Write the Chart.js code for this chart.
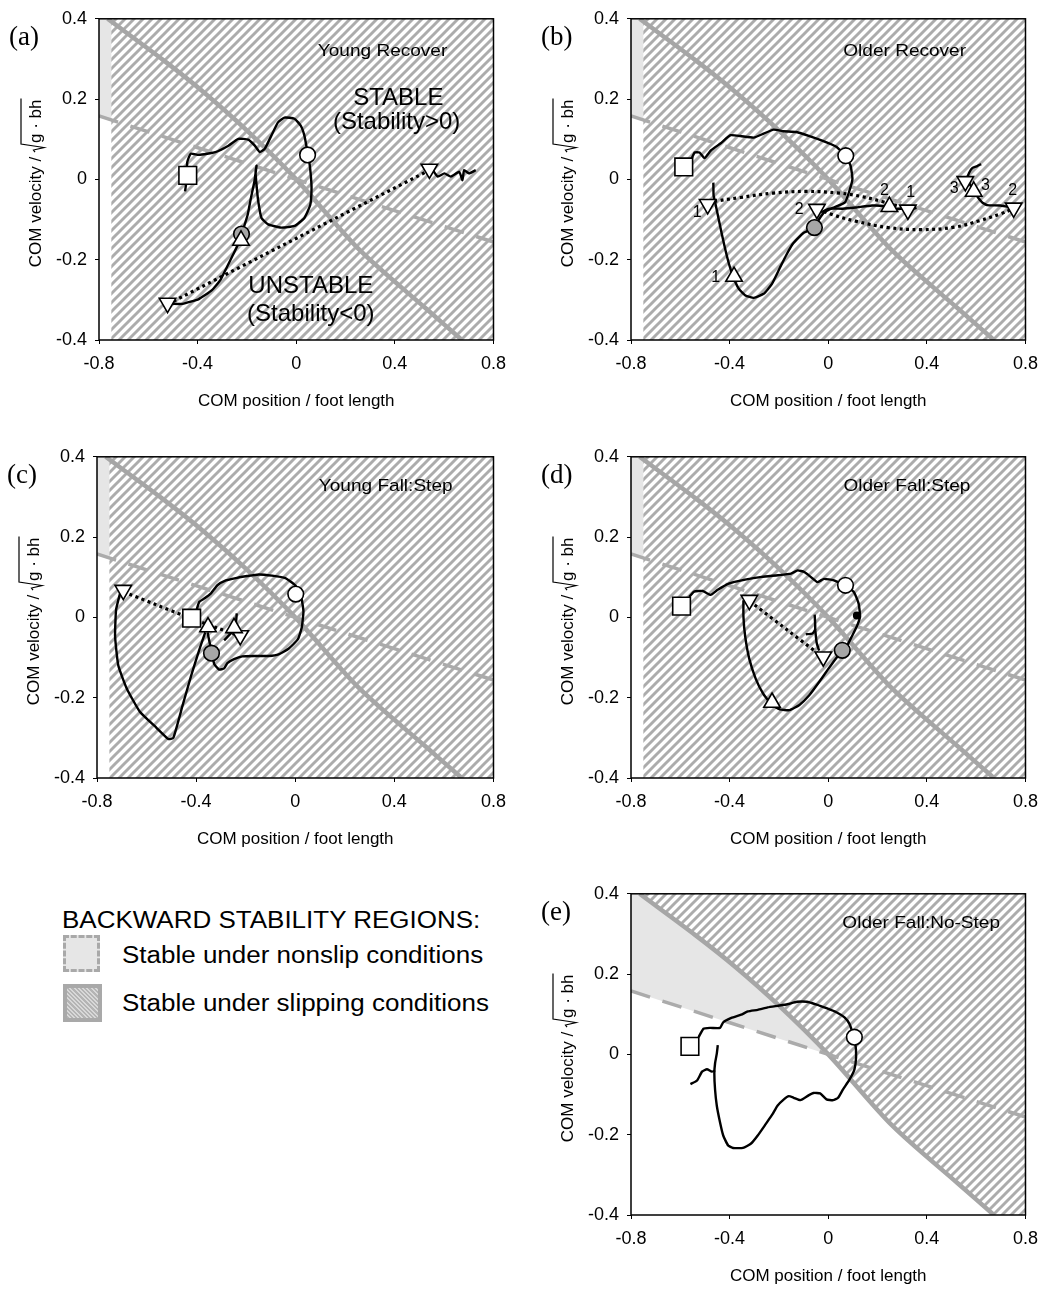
<!doctype html>
<html lang="en">
<head>
<meta charset="utf-8">
<title>Backward stability regions - COM state space</title>
<script src="https://cdn.jsdelivr.net/npm/chart.js@4.4.1/dist/chart.umd.min.js"></script>
<style>
  body { margin: 0; background: #fff; width: 1053px; height: 1289px; position: relative; overflow: hidden;
         font-family: "Liberation Sans", Arial, sans-serif; color: #000; }
  canvas { position: absolute; }
  .lg { position: absolute; font-size: 23px; line-height: 30px; white-space: nowrap;
        transform: scaleX(1.13); transform-origin: left center; }
  .box { position: absolute; box-sizing: border-box; }
  #nonslip { left: 63px; top: 935px; width: 37px; height: 37px; background: #e6e6e6; border: 3px dashed #a9a9a9; }
  #slip { left: 63px; top: 984px; width: 39px; height: 38px; border: 4px solid #a9a9a9;
          background: repeating-linear-gradient(45deg, #b4b4b4 0 1.5px, #d8d8d8 1.5px 3px); }
</style>
</head>
<body>
<canvas id="pa" width="515" height="415" style="left:0;top:0"></canvas>
<canvas id="pb" width="515" height="415" style="left:532px;top:0"></canvas>
<canvas id="pc" width="515" height="415" style="left:0;top:438px"></canvas>
<canvas id="pd" width="515" height="415" style="left:532px;top:438px"></canvas>
<canvas id="pe" width="515" height="415" style="left:532px;top:875px"></canvas>

<div class="lg" style="left:62px;top:905px">BACKWARD STABILITY REGIONS:</div>
<div class="box" id="nonslip"></div>
<div class="lg" style="left:122px;top:940px">Stable under nonslip conditions</div>
<div class="box" id="slip"></div>
<div class="lg" style="left:122px;top:988px">Stable under slipping conditions</div>

<script>
// axes
const xTicks = [-0.8, -0.4, 0, 0.4, 0.8];
const yTicks = [-0.4, -0.2, 0, 0.2, 0.4];

// stability limits (COM position, COM velocity)
const slipLimit = [[-0.765,0.4],[-0.539,0.297],[-0.379,0.219],[-0.206,0.125],[0,0],[0.259,-0.177],[0.525,-0.321],[0.672,-0.4]];
const nonslipLimit = [[-0.8,0.158],[0,0],[0.8,-0.156]];
const hatchStart = -0.75;

// (a) young recover
const aTrace = [[-0.451,-0.030],[-0.447,-0.012],[-0.442,0.043],[-0.428,0.064],[-0.395,0.061],[-0.328,0.068],[-0.275,0.084],[-0.235,0.101],[-0.195,0.099],[-0.168,0.084],[-0.148,0.068],[-0.128,0.076],[-0.101,0.109],[-0.074,0.142],[-0.048,0.154],[-0.007,0.151],[0.019,0.133],[0.033,0.109],[0.043,0.076],[0.046,0.061],[0.053,0.043],[0.059,0.011],[0.062,-0.022],[0.057,-0.063],[0.033,-0.096],[-0.007,-0.116],[-0.061,-0.120],[-0.114,-0.112],[-0.141,-0.096],[-0.154,-0.055],[-0.161,-0.014],[-0.165,0.019],[-0.161,0.034],[-0.170,-0.006],[-0.184,-0.047],[-0.197,-0.088],[-0.215,-0.124],[-0.228,-0.151],[-0.255,-0.186],[-0.281,-0.218],[-0.308,-0.251],[-0.342,-0.276],[-0.395,-0.298],[-0.462,-0.310],[-0.502,-0.310]];
const aTail = [[0.554,0.023],[0.574,0.007],[0.601,0.015],[0.627,0.007],[0.661,0.019],[0.674,-0.002],[0.681,0.023],[0.701,0.015],[0.728,0.023]];
const aStep = [[-0.522,-0.311],[0.540,0.023]];
const aSquare = [[-0.44,0.01]];
const aCircle = [[0.046,0.061]];
const aGray = [[-0.222,-0.136]];
const aUp = [[-0.224,-0.152]];
const aDown = [[-0.522,-0.308],[0.540,0.026]];

// (b) older recover
const bTrace = [[-0.556,0.049],[-0.542,0.067],[-0.522,0.067],[-0.502,0.053],[-0.476,0.072],[-0.436,0.090],[-0.396,0.110],[-0.356,0.108],[-0.302,0.104],[-0.262,0.114],[-0.222,0.124],[-0.182,0.120],[-0.129,0.118],[-0.076,0.108],[-0.022,0.096],[0.031,0.082],[0.071,0.059],[0.091,0.033],[0.098,0.000],[0.084,-0.032],[0.068,-0.057],[0.018,-0.071],[-0.016,-0.082],[-0.036,-0.098],[-0.056,-0.120],[-0.102,-0.134],[-0.142,-0.159],[-0.169,-0.187],[-0.196,-0.220],[-0.229,-0.261],[-0.262,-0.285],[-0.302,-0.295],[-0.336,-0.289],[-0.362,-0.273],[-0.382,-0.248],[-0.402,-0.212],[-0.422,-0.163],[-0.442,-0.106],[-0.456,-0.065],[-0.465,-0.040],[-0.466,-0.008]];
const bMid = [[-0.029,-0.082],[0.004,-0.073],[0.058,-0.073],[0.111,-0.070],[0.178,-0.065],[0.231,-0.067],[0.251,-0.073],[0.298,-0.073],[0.324,-0.077],[0.358,-0.071]];
const bRight = [[0.620,0.038],[0.604,0.033],[0.584,0.028],[0.571,0.016],[0.564,0.002],[0.578,-0.016],[0.598,-0.037],[0.624,-0.057],[0.644,-0.064],[0.698,-0.065],[0.751,-0.071]];
const bStep1 = [[-0.489,-0.057],[-0.356,-0.045],[-0.222,-0.034],[-0.089,-0.030],[0.044,-0.034],[0.138,-0.043],[0.218,-0.055],[0.284,-0.067],[0.324,-0.077]];
const bStep2 = [[-0.042,-0.073],[0.018,-0.088],[0.111,-0.104],[0.244,-0.120],[0.378,-0.125],[0.511,-0.119],[0.618,-0.102],[0.698,-0.086],[0.751,-0.073]];
const bSquare = [[-0.586,0.031]];
const bCircle = [[0.071,0.059]];
const bGray = [[-0.056,-0.120]];
const bUp = [[-0.382,-0.242],[0.248,-0.068],[0.590,-0.030]];
const bDown = [[-0.489,-0.062],[-0.046,-0.074],[0.323,-0.076],[0.556,-0.005],[0.752,-0.071]];
const bNums = [['1',-0.532,-0.082],['1',-0.456,-0.244],['2',-0.118,-0.074],['2',0.228,-0.028],['1',0.334,-0.033],['3',0.511,-0.024],['3',0.638,-0.016],['2',0.748,-0.028]];

// (c) young fall: step
const cTrace = [[-0.707,0.060],[-0.723,0.019],[-0.727,-0.047],[-0.714,-0.120],[-0.680,-0.177],[-0.627,-0.235],[-0.560,-0.275],[-0.512,-0.303],[-0.492,-0.300],[-0.454,-0.218],[-0.420,-0.145],[-0.387,-0.080],[-0.363,-0.037]];
const cLoop = [[-0.354,-0.037],[-0.340,-0.079],[-0.327,-0.116],[-0.307,-0.130],[-0.287,-0.127],[-0.274,-0.114],[-0.247,-0.104],[-0.214,-0.097],[-0.160,-0.096],[-0.107,-0.096],[-0.067,-0.092],[-0.027,-0.078],[0.010,-0.055],[0.026,-0.026],[0.033,0.015],[0.024,0.051],[0.000,0.080],[-0.040,0.098],[-0.094,0.104],[-0.147,0.107],[-0.194,0.103],[-0.240,0.098],[-0.280,0.092],[-0.314,0.080],[-0.340,0.060],[-0.367,0.047],[-0.387,0.039],[-0.396,0.023],[-0.400,0.011]];
const cHook = [[-0.236,0.010],[-0.240,-0.018],[-0.247,-0.032],[-0.260,-0.040],[-0.287,-0.057]];
const cStep = [[-0.694,0.064],[-0.418,-0.003],[-0.222,-0.047]];
const cSquare = [[-0.418,-0.002]];
const cCircle = [[0.002,0.058]];
const cGray = [[-0.338,-0.089]];
const cUp = [[-0.352,-0.024],[-0.247,-0.026]];
const cDown = [[-0.694,0.068],[-0.222,-0.045]];

// (d) older fall: step
const dTrace = [[-0.564,0.051],[-0.544,0.064],[-0.510,0.066],[-0.477,0.056],[-0.450,0.068],[-0.404,0.084],[-0.337,0.094],[-0.270,0.101],[-0.204,0.105],[-0.151,0.109],[-0.124,0.117],[-0.097,0.113],[-0.071,0.101],[-0.044,0.088],[-0.017,0.096],[0.023,0.092],[0.063,0.080],[0.103,0.064],[0.123,0.035],[0.129,0.002],[0.116,-0.022],[0.096,-0.047],[0.076,-0.071],[0.059,-0.081],[0.029,-0.104],[-0.004,-0.132],[-0.037,-0.161],[-0.077,-0.194],[-0.117,-0.218],[-0.157,-0.231],[-0.197,-0.229],[-0.230,-0.217],[-0.264,-0.190],[-0.294,-0.153],[-0.320,-0.104],[-0.337,-0.047],[-0.344,0.002],[-0.344,0.043]];
const dHook = [[-0.055,0.007],[-0.053,-0.030],[-0.064,-0.040],[-0.091,-0.042]];
const dDrop = [[-0.053,-0.030],[-0.047,-0.063],[-0.037,-0.083]];
const dStep = [[-0.320,0.041],[-0.020,-0.100]];
const dSquare = [[-0.595,0.028]];
const dCircle = [[0.070,0.080]];
const dGray = [[0.057,-0.082]];
const dUp = [[-0.228,-0.212]];
const dDown = [[-0.320,0.043],[-0.020,-0.098]];
const dBlob = [[0.116,0.005]];

// (e) older fall: no-step
const eTrace = [[-0.526,0.043],[-0.506,0.064],[-0.479,0.066],[-0.439,0.066],[-0.426,0.080],[-0.393,0.091],[-0.353,0.099],[-0.326,0.107],[-0.286,0.111],[-0.246,0.117],[-0.206,0.121],[-0.166,0.125],[-0.127,0.131],[-0.087,0.131],[-0.047,0.124],[-0.007,0.115],[0.033,0.105],[0.066,0.092],[0.086,0.076],[0.100,0.051],[0.110,0.027],[0.113,-0.006],[0.106,-0.038],[0.086,-0.063],[0.060,-0.087],[0.040,-0.108],[0.020,-0.114],[-0.007,-0.112],[-0.033,-0.097],[-0.060,-0.096],[-0.080,-0.102],[-0.113,-0.114],[-0.140,-0.108],[-0.160,-0.104],[-0.180,-0.112],[-0.206,-0.128],[-0.226,-0.149],[-0.253,-0.173],[-0.286,-0.202],[-0.313,-0.222],[-0.346,-0.233],[-0.386,-0.233],[-0.406,-0.227],[-0.426,-0.202],[-0.439,-0.169],[-0.452,-0.128],[-0.459,-0.088],[-0.462,-0.047],[-0.459,-0.022],[-0.452,0.002],[-0.448,0.023]];
const eTail = [[-0.559,-0.074],[-0.532,-0.065],[-0.512,-0.043],[-0.492,-0.037],[-0.472,-0.043],[-0.459,-0.040]];
const eSquare = [[-0.561,0.020]];
const eCircle = [[0.106,0.043]];

function yOn(line, xv) {
  for (let i = 1; i < line.length; i++) {
    const [x0, y0] = line[i - 1], [x1, y1] = line[i];
    if (xv <= x1) return y0 + (y1 - y0) * (xv - x0) / (x1 - x0);
  }
  return line[line.length - 1][1];
}

// shaded regions: left strip variant (a-d) and full variant (e)
const stripLight = [[-0.8,0.4],[hatchStart,0.4],[hatchStart,yOn(nonslipLimit,hatchStart)],nonslipLimit[0]];
const stripHatch = [[hatchStart,0.4],[0.8,0.4],[0.8,-0.4],[hatchStart,-0.4]];
const upper = slipLimit.filter(p => p[0] <= 0);
const eLight = [[-0.8,0.4]].concat(upper, [nonslipLimit[0]]);
const eHatch = slipLimit.concat([[0.8,-0.4],[0.8,0.4]]);

const FONT = '"Liberation Sans", Arial, sans-serif';

const panels = {
  pa: { tag: '(a)', yw: 99, light: stripLight, hatch: stripHatch,
        lines: [aTrace, aTail], steps: [aStep],
        square: aSquare, circle: aCircle, gray: aGray, up: aUp, down: aDown,
        texts: [['Young Recover',0.35,0.32,17,1.12],['STABLE',0.414,0.203,24,1],['(Stability>0)',0.407,0.142,24,1],
                ['UNSTABLE',0.059,-0.267,24,1],['(Stability<0)',0.059,-0.337,24,1]] },
  pb: { tag: '(b)', yw: 99, light: stripLight, hatch: stripHatch,
        lines: [bTrace, bMid, bRight], steps: [bStep1, bStep2],
        square: bSquare, circle: bCircle, gray: bGray, up: bUp, down: bDown,
        texts: [['Older Recover',0.31,0.32,17,1.12]].concat(bNums.map(n => [n[0], n[1], n[2], 16, 1])) },
  pc: { tag: '(c)', yw: 97, light: stripLight, hatch: stripHatch,
        lines: [cTrace, cLoop, cHook], steps: [cStep],
        square: cSquare, circle: cCircle, gray: cGray, up: cUp, down: cDown,
        texts: [['Young Fall:Step',0.365,0.326,17,1.12]] },
  pd: { tag: '(d)', yw: 99, light: stripLight, hatch: stripHatch,
        lines: [dTrace, dHook, dDrop], steps: [dStep],
        square: dSquare, circle: dCircle, gray: dGray, up: dUp, down: dDown, blob: dBlob,
        texts: [['Older Fall:Step',0.319,0.326,17,1.12]] },
  pe: { tag: '(e)', yw: 99, light: eLight, hatch: eHatch,
        lines: [eTrace, eTail], steps: [],
        square: eSquare, circle: eCircle, gray: [], up: [], down: [],
        texts: [['Older Fall:No-Step',0.377,0.326,17,1.12]] }
};

function hatchPattern(ctx) {
  const s = 9, c = document.createElement('canvas');
  c.width = c.height = s;
  const g = c.getContext('2d');
  g.strokeStyle = '#acacac';
  g.lineWidth = 2.9;
  g.beginPath();
  g.moveTo(-2, s + 2); g.lineTo(s + 2, -2);
  g.moveTo(-3, 3); g.lineTo(3, -3);
  g.moveTo(s - 3, s + 3); g.lineTo(s + 3, s - 3);
  g.stroke();
  return ctx.createPattern(c, 'repeat');
}

const deco = {
  id: 'deco',
  beforeDatasetsDraw(chart) {
    const p = panels[chart.canvas.id];
    const { ctx, chartArea: a } = chart;
    const xs = chart.scales.x, ys = chart.scales.y;
    const path = pts => {
      ctx.beginPath();
      pts.forEach((q, i) => {
        const px = xs.getPixelForValue(q[0]), py = ys.getPixelForValue(q[1]);
        if (i) ctx.lineTo(px, py); else ctx.moveTo(px, py);
      });
      ctx.closePath();
    };
    ctx.save();
    ctx.beginPath();
    ctx.rect(a.left, a.top, a.width, a.height);
    ctx.clip();
    path(p.light); ctx.fillStyle = '#e6e6e6'; ctx.fill();
    path(p.hatch); ctx.fillStyle = hatchPattern(ctx); ctx.fill();
    ctx.restore();
  },
  afterDraw(chart) {
    const p = panels[chart.canvas.id];
    const { ctx, chartArea: a } = chart;
    const xs = chart.scales.x, ys = chart.scales.y;
    ctx.save();
    ctx.strokeStyle = '#000';
    ctx.lineWidth = 1.5;
    ctx.strokeRect(a.left, a.top, a.width, a.height);
    ctx.fillStyle = '#000';

    ctx.font = '27px "Liberation Serif", "Times New Roman", serif';
    ctx.textAlign = 'left';
    ctx.textBaseline = 'middle';
    ctx.fillText(p.tag, a.left - 90, a.top + 19);

    ctx.font = '17px ' + FONT;
    ctx.textAlign = 'center';
    ctx.fillText('COM position / foot length', (a.left + a.right) / 2, a.bottom + 61);

    // y title with square root
    ctx.save();
    ctx.translate(a.left - 58, (a.top + a.bottom) / 2 + 4);
    ctx.rotate(-Math.PI / 2);
    ctx.textAlign = 'left';
    ctx.textBaseline = 'alphabetic';
    const t1 = 'COM velocity / ', t2 = 'g \u00b7 bh';
    const w1 = ctx.measureText(t1).width, w2 = ctx.measureText(t2).width, wr = 9;
    let x0 = -(w1 + wr + w2) / 2;
    ctx.fillText(t1, x0, 0);
    x0 += w1;
    ctx.beginPath();
    ctx.moveTo(x0, -6); ctx.lineTo(x0 + 2, -7.5); ctx.lineTo(x0 + 4.5, 3);
    ctx.lineTo(x0 + 8, -20); ctx.lineTo(x0 + wr + w2 + 1, -20);
    ctx.lineWidth = 1.2;
    ctx.stroke();
    ctx.fillText(t2, x0 + wr, 0);
    ctx.restore();

    ctx.textAlign = 'center';
    ctx.textBaseline = 'middle';
    p.texts.forEach(([t, tx, ty, size, sx]) => {
      ctx.save();
      ctx.translate(xs.getPixelForValue(tx), ys.getPixelForValue(ty));
      ctx.scale(sx, 1);
      ctx.font = size + 'px ' + FONT;
      ctx.fillText(t, 0, 0);
      ctx.restore();
    });
    ctx.restore();
  }
};

const pts = arr => arr.map(([x, y]) => ({ x, y }));

function markerSet(arr, style, radius, fill, rot) {
  return { data: pts(arr), showLine: false, pointStyle: style, pointRadius: radius, pointHoverRadius: radius,
           pointRotation: rot || 0, pointBackgroundColor: fill, pointBorderColor: '#000', pointBorderWidth: 1.6,
           clip: false, order: 0 };
}

function build(id) {
  const p = panels[id];
  const ds = [];
  ds.push(markerSet(p.up, 'triangle', 9.5, '#fff'));
  ds.push(markerSet(p.down, 'triangle', 9.5, '#fff', 180));
  ds.push(markerSet(p.gray, 'circle', 7.8, '#a6a6a6'));
  ds.push(markerSet(p.circle, 'circle', 7.8, '#fff'));
  ds.push(markerSet(p.square, 'rect', 12.5, '#fff'));
  if (p.blob) ds.push(markerSet(p.blob, 'circle', 3.2, '#000'));
  p.steps.forEach(s => ds.push({ data: pts(s), showLine: true, borderColor: '#000', borderWidth: 3.2,
    borderDash: [3, 3.5], borderCapStyle: 'butt', pointRadius: 0, tension: 0.4, order: 1 }));
  p.lines.forEach(s => ds.push({ data: pts(s), showLine: true, borderColor: '#000', borderWidth: 2.4,
    pointRadius: 0, tension: 0.15, borderJoinStyle: 'round', order: 1 }));
  ds.push({ data: pts(nonslipLimit), showLine: true, borderColor: '#ababab', borderWidth: 3.5,
    borderDash: [20, 13], pointRadius: 0, order: 2 });
  ds.push({ data: pts(slipLimit), showLine: true, borderColor: '#a6a6a6', borderWidth: 4.5,
    pointRadius: 0, tension: 0.3, order: 3 });

  const tickFont = { family: FONT, size: 18 };
  new Chart(document.getElementById(id), {
    type: 'scatter',
    data: { datasets: ds },
    options: {
      responsive: false,
      animation: false,
      devicePixelRatio: 1,
      events: [],
      layout: { padding: { top: 13, right: 15, left: 0, bottom: 0 } },
      plugins: { legend: { display: false }, tooltip: { enabled: false } },
      scales: {
        x: {
          type: 'linear', min: -0.8, max: 0.8,
          afterBuildTicks: s => { s.ticks = xTicks.map(v => ({ value: v })); },
          afterFit: s => { s.height = 75; },
          ticks: { font: tickFont, color: '#000', padding: 9, maxRotation: 0,
                   callback: v => String(+v.toFixed(1)) },
          grid: { display: true, drawOnChartArea: false, drawTicks: true, tickLength: 4, color: '#000' },
          border: { display: false }
        },
        y: {
          type: 'linear', min: -0.4, max: 0.4,
          afterBuildTicks: s => { s.ticks = yTicks.map(v => ({ value: v })); },
          afterFit: s => { s.width = p.yw; },
          ticks: { font: tickFont, color: '#000', padding: 8,
                   callback: v => String(+v.toFixed(1)) },
          grid: { display: true, drawOnChartArea: false, drawTicks: true, tickLength: 4, color: '#000' },
          border: { display: false }
        }
      }
    },
    plugins: [deco]
  });
}

['pa', 'pb', 'pc', 'pd', 'pe'].forEach(build);
</script>
</body>
</html>
